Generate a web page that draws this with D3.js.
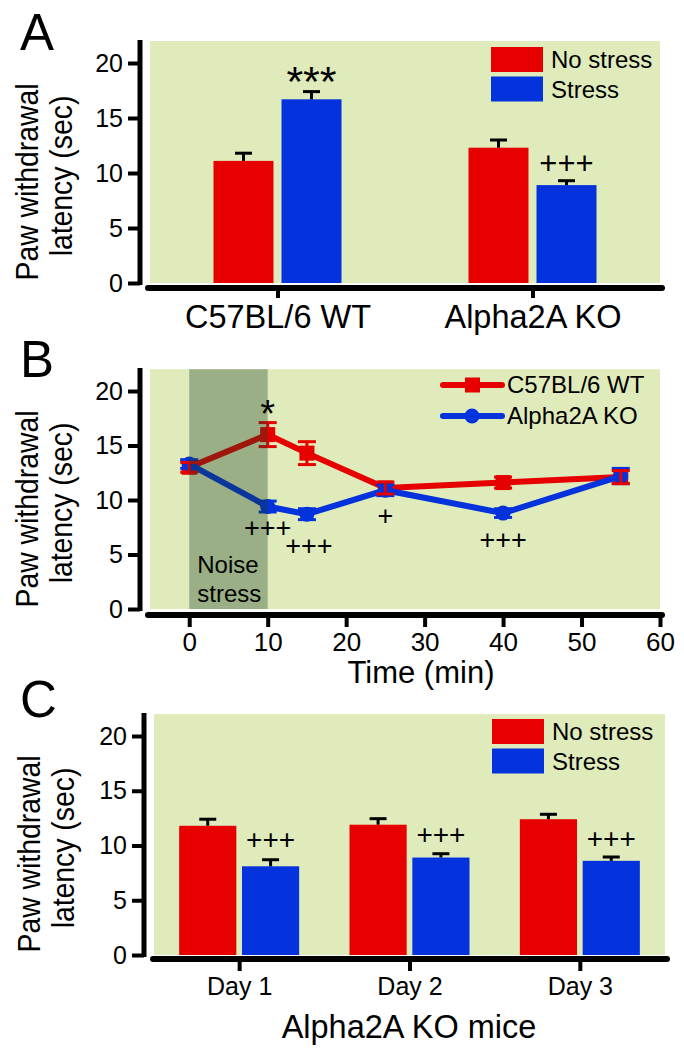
<!DOCTYPE html>
<html><head><meta charset="utf-8">
<script src="https://cdn.jsdelivr.net/npm/d3@7"></script>
<style>
body{margin:0;background:#fff}
svg{display:block}
text{font-family:"Liberation Sans",Arial,Helvetica,sans-serif;fill:#000}
</style>
</head><body>
<svg id="chart" width="684" height="1050"></svg>
<script>
// ---------- data ----------
const seriesNames = ["No stress", "Stress"];
const yTicks = [0, 5, 10, 15, 20];

// Panel A
const groupsA = ["C57BL/6 WT", "Alpha2A KO"];
const noStressA = [11.1, 12.3];
const noStressErrA = [0.7, 0.7];
const stressA = [16.7, 8.9];
const stressErrA = [0.7, 0.4];
const sigLabelsA = ["***", "+++"];
const sigLevelsA = [18.9, 10.9];

// Panel B
const timeB = [0, 10, 15, 25, 40, 55];
const wtB = [13.0, 16.0, 14.3, 11.1, 11.6, 12.1];
const wtErrB = [0.45, 1.1, 1.05, 0.55, 0.5, 0.6];
const koB = [13.3, 9.4, 8.7, 10.9, 8.8, 12.2];
const koErrB = [0.4, 0.5, 0.5, 0.5, 0.4, 0.7];
const lineNamesB = ["C57BL/6 WT", "Alpha2A KO"];
const xTicksB = [0, 10, 20, 30, 40, 50, 60];
const stressWindowB = [0, 10];
const sigTimesB = [10, 10, 15, 25, 40];
const sigLevelsB = [18.35, 7.48, 5.87, 8.62, 6.42];
const sigLabelsB = ["*", "+++", "+++", "+", "+++"];

// Panel C
const daysC = ["Day 1", "Day 2", "Day 3"];
const noStressC = [11.8, 11.9, 12.4];
const noStressErrC = [0.6, 0.55, 0.45];
const stressC = [8.1, 8.9, 8.6];
const stressErrC = [0.6, 0.35, 0.35];
const sigLabelsC = ["+++", "+++", "+++"];
const sigLevelsC = [10.6, 11.1, 10.7];

// ---------- style ----------
const RED = "#e60000", BLUE = "#0432dc", BG = "#e0ebbb";
const svg = d3.select("#chart");

function yAxis(y, x, fs) {
  const g = svg.append("g").attr("transform", `translate(${x},0)`)
    .call(d3.axisLeft(y).tickValues(yTicks).tickSize(12).tickPadding(5).tickFormat(d3.format("d")));
  g.select(".domain").remove();
  g.selectAll(".tick line").attr("stroke", "#000").attr("stroke-width", 4);
  g.selectAll(".tick text").attr("font-size", fs).attr("font-family", null);
  svg.append("line").attr("x1", x).attr("x2", x)
    .attr("y1", y(22.1)).attr("y2", y(0) + 2)
    .attr("stroke", "#000").attr("stroke-width", 5);
}
function xAxisLine(x1, x2, yy) {
  svg.append("line").attr("x1", x1).attr("x2", x2).attr("y1", yy).attr("y2", yy)
    .attr("stroke", "#000").attr("stroke-width", 6).attr("stroke-linecap", "round");
}
function styleXAxis(g, fs) {
  g.select(".domain").remove();
  g.selectAll(".tick line").attr("stroke", "#000").attr("stroke-width", 4);
  g.selectAll(".tick text").attr("font-size", fs).attr("font-family", null);
}
function yLabel(x1, x2, yc1, yc2, fs) {
  svg.append("text").attr("transform", `translate(${x1},${yc1}) rotate(-90) scale(0.93,1)`)
    .attr("text-anchor", "middle").attr("font-size", fs).text("Paw withdrawal");
  svg.append("text").attr("transform", `translate(${x2},${yc2}) rotate(-90) scale(0.93,1)`)
    .attr("text-anchor", "middle").attr("font-size", fs).text("latency (sec)");
}
function panelLabel(t, x, y) {
  svg.append("text").attr("x", x).attr("y", y).attr("font-size", 51).text(t);
}
function errUp(x, y, v, e, cap, color) {
  svg.append("line").attr("x1", x).attr("x2", x).attr("y1", y(v)).attr("y2", y(v + e))
    .attr("stroke", color).attr("stroke-width", 3);
  svg.append("line").attr("x1", x - cap / 2).attr("x2", x + cap / 2).attr("y1", y(v + e)).attr("y2", y(v + e))
    .attr("stroke", color).attr("stroke-width", 3);
}
function sigText(label, x, yc, fs) {
  // center the glyph vertically around yc
  const k = label.startsWith("*") ? 0.48 : 0.36;
  svg.append("text").attr("x", x).attr("y", yc + k * fs)
    .attr("text-anchor", "middle").attr("font-size", fs).text(label);
}
function barLegend(x, y0, tx) {
  [RED, BLUE].forEach((c, i) => {
    svg.append("rect").attr("x", x).attr("y", y0 + i * 29.5).attr("width", 52).attr("height", 25).attr("fill", c);
    svg.append("text").attr("x", tx).attr("y", y0 + i * 29.5 + 21).attr("font-size", 24).text(seriesNames[i]);
  });
}

// ================= Panel A =================
{
  const y = d3.scaleLinear([0, 20], [283, 63]);
  const x = d3.scalePoint(groupsA, [150, 660]).padding(0.5);
  const inner = d3.scaleBand(seriesNames, [-64, 64]).paddingInner(0.118);
  svg.append("rect").attr("x", 150).attr("y", y(22)).attr("width", 510).attr("height", y(0) - y(22)).attr("fill", BG);
  const vals = [noStressA, stressA], errs = [noStressErrA, stressErrA], cols = [RED, BLUE];
  groupsA.forEach((gname, gi) => {
    seriesNames.forEach((s, si) => {
      const bx = x(gname) + inner(s);
      svg.append("rect").attr("x", bx).attr("y", y(vals[si][gi])).attr("width", inner.bandwidth())
        .attr("height", y(0) - y(vals[si][gi])).attr("fill", cols[si]);
      errUp(bx + inner.bandwidth() / 2, y, vals[si][gi], errs[si][gi], 17, "#000");
    });
    sigText(sigLabelsA[gi], x(gname) + inner("Stress") + inner.bandwidth() / 2, y(sigLevelsA[gi]),
      sigLabelsA[gi] === "***" ? 43 : 31);
  });
  yAxis(y, 140, 25);
  const gx = svg.append("g").attr("transform", "translate(0,288)")
    .call(d3.axisBottom(x).tickSize(10).tickPadding(7));
  styleXAxis(gx, 32.5);
  xAxisLine(148, 662, 288);
  yLabel(38, 72, 182, 176, 30.5);
  barLegend(491, 47, 551);
  panelLabel("A", 20, 50);
}

// ================= Panel B =================
{
  const y = d3.scaleLinear([0, 20], [609, 391]);
  const x = d3.scaleLinear([-5, 60], [150, 660]);
  svg.append("rect").attr("x", x(-5)).attr("y", y(22)).attr("width", x(60) - x(-5)).attr("height", y(0) - y(22)).attr("fill", BG);
  const line = d3.line().x(d => x(d[0])).y(d => y(d[1]));
  const wt = timeB.map((t, i) => [t, wtB[i], wtErrB[i]]);
  const ko = timeB.map((t, i) => [t, koB[i], koErrB[i]]);
  const errBoth = (d, color) => {
    const xx = x(d[0]), lo = y(d[1] - d[2]), hi = y(d[1] + d[2]);
    svg.append("line").attr("x1", xx).attr("x2", xx).attr("y1", lo).attr("y2", hi).attr("stroke", color).attr("stroke-width", 3);
    [lo, hi].forEach(yy => svg.append("line").attr("x1", xx - 9).attr("x2", xx + 9).attr("y1", yy).attr("y2", yy)
      .attr("stroke", color).attr("stroke-width", 3));
  };
  svg.append("path").datum(wt).attr("d", line).attr("fill", "none").attr("stroke", RED).attr("stroke-width", 6);
  wt.forEach(d => svg.append("rect").attr("x", x(d[0]) - 7.5).attr("y", y(d[1]) - 7.5).attr("width", 15).attr("height", 15).attr("fill", RED));
  svg.append("path").datum(ko).attr("d", line).attr("fill", "none").attr("stroke", BLUE).attr("stroke-width", 6);
  ko.forEach(d => svg.append("circle").attr("cx", x(d[0])).attr("cy", y(d[1])).attr("r", 7.5).attr("fill", BLUE));
  ko.forEach(d => errBoth(d, BLUE));
  wt.forEach(d => errBoth(d, RED));
  // noise stress window overlay
  svg.append("rect").attr("x", x(stressWindowB[0])).attr("y", y(22)).attr("width", x(stressWindowB[1]) - x(stressWindowB[0]))
    .attr("height", y(0) - y(22)).attr("fill", "rgb(24,62,33)").attr("fill-opacity", 0.35);
  svg.append("text").attr("x", x(stressWindowB[0]) + 8).attr("y", 573).attr("font-size", 24).text("Noise");
  svg.append("text").attr("x", x(stressWindowB[0]) + 8).attr("y", 602).attr("font-size", 24).text("stress");
  sigTimesB.forEach((t, i) => sigText(sigLabelsB[i], x(t) + (i === 2 ? 2 : 0), y(sigLevelsB[i]),
    sigLabelsB[i] === "*" ? 38 : 27));
  yAxis(y, 140, 25);
  const gx = svg.append("g").attr("transform", "translate(0,615)")
    .call(d3.axisBottom(x).tickValues(xTicksB).tickSize(12).tickPadding(6).tickFormat(d3.format("d")));
  styleXAxis(gx, 26);
  xAxisLine(148, 662, 615);
  svg.append("text").attr("x", 421).attr("y", 683).attr("text-anchor", "middle").attr("font-size", 31).text("Time (min)");
  yLabel(38, 72, 509, 503, 30.5);
  // legend
  [RED, BLUE].forEach((c, i) => {
    const ly = i === 0 ? 385 : 416;
    svg.append("line").attr("x1", 443).attr("x2", 502).attr("y1", ly).attr("y2", ly)
      .attr("stroke", c).attr("stroke-width", 6).attr("stroke-linecap", "round");
    if (i === 0) svg.append("rect").attr("x", 465).attr("y", ly - 7.5).attr("width", 15).attr("height", 15).attr("fill", c);
    else svg.append("circle").attr("cx", 472).attr("cy", ly).attr("r", 7.5).attr("fill", c);
    svg.append("text").attr("x", 507).attr("y", ly + 8).attr("font-size", 24).text(lineNamesB[i]);
  });
  panelLabel("B", 20, 377);
}

// ================= Panel C =================
{
  const y = d3.scaleLinear([0, 20], [955, 736]);
  const x = d3.scalePoint(daysC, [154, 665]).padding(0.5);
  const inner = d3.scaleBand(seriesNames, [-60, 60]).paddingInner(0.09);
  svg.append("rect").attr("x", 154).attr("y", y(22)).attr("width", 511).attr("height", y(0) - y(22)).attr("fill", BG);
  const vals = [noStressC, stressC], errs = [noStressErrC, stressErrC], cols = [RED, BLUE];
  daysC.forEach((d, gi) => {
    seriesNames.forEach((s, si) => {
      const bx = x(d) + inner(s);
      svg.append("rect").attr("x", bx).attr("y", y(vals[si][gi])).attr("width", inner.bandwidth())
        .attr("height", y(0) - y(vals[si][gi])).attr("fill", cols[si]);
      errUp(bx + inner.bandwidth() / 2, y, vals[si][gi], errs[si][gi], 17, "#000");
    });
    sigText(sigLabelsC[gi], x(d) + inner("Stress") + inner.bandwidth() / 2, y(sigLevelsC[gi]), 28);
  });
  yAxis(y, 144, 25);
  const gx = svg.append("g").attr("transform", "translate(0,959)")
    .call(d3.axisBottom(x).tickSize(12).tickPadding(6));
  styleXAxis(gx, 25);
  xAxisLine(153, 667, 959);
  svg.append("text").attr("x", 409).attr("y", 1038).attr("text-anchor", "middle").attr("font-size", 32.5).text("Alpha2A KO mice");
  yLabel(40, 74, 854, 848, 30.5);
  barLegend(492, 719, 552);
  panelLabel("C", 20, 717);
}
</script>
</body></html>
